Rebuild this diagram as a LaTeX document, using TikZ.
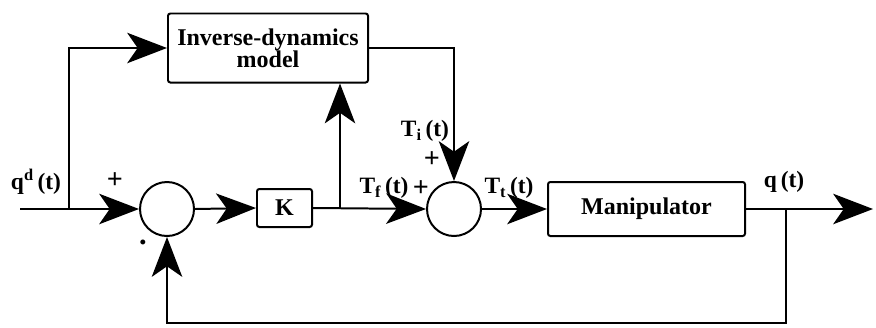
\documentclass[tikz,border=0pt]{standalone}
\usepackage{fontspec}
\setmainfont{Liberation Serif}
\usetikzlibrary{arrows.meta}
\begin{document}
\begin{tikzpicture}[x=0.03cm,y=-0.03cm,
  line width=1.7pt,
  blk/.style={draw,rectangle,rounded corners=2pt,inner sep=0pt,font=\fontsize{20.5}{19}\selectfont\bfseries},
  sumc/.style={draw,circle,minimum size=1.62cm,inner sep=0pt},
  lbl/.style={inner sep=0pt,font=\fontsize{20}{20}\selectfont\bfseries},
  arr/.style={-{Stealth[length=34pt,width=26pt,inset=9pt]}}]
\useasboundingbox (0,0) rectangle (876,327);
\node[blk,minimum width=6cm,minimum height=2.07cm,align=center] (inv) at (268,48) {Inverse-dynamics\\model};
\node[sumc] (s1) at (167,209) {};
\node[blk,minimum width=1.65cm,minimum height=1.14cm] (K) at (284.5,208) {K};
\node[sumc] (s2) at (454,209) {};
\node[blk,minimum width=5.91cm,minimum height=1.62cm] (M) at (646.5,209) {Manipulator};
\coordinate (in) at (20,209);
\coordinate (b1) at (69,209);
\coordinate (b2) at (340,209);
\coordinate (b3) at (786,209);
\coordinate (out) at (873,209);
\coordinate (fb) at (786,323);
\draw[arr] (in) -- (s1.west);
\draw[arr] (b1) |- (inv.west);
\draw[arr] (s1.east) -- (K.west);
\draw[arr] (K.east) -- (s2.west);
\draw[arr] (b2) -- (b2 |- inv.south);
\draw[arr] (inv.east) -| (s2.north);
\draw[arr] (s2.east) -- (M.west);
\draw[arr] (M.east) -- (out);
\draw[arr] (b3) -- (fb) -| (s1.south);
\node[lbl] (lq) at (36,182) {q$^{\mathbf{d}}$\,(t)};
\node[lbl,font=\fontsize{24}{24}\selectfont\bfseries] (p1) at (115,181) {+};
\node[lbl,font=\fontsize{26}{26}\selectfont\bfseries] (m1) at (143,242) {.};
\node[lbl] (lf) at (384,188) {T$_{\mathbf{f}}$\,(t)};
\node[lbl,font=\fontsize{24}{24}\selectfont\bfseries] (p2) at (421,189) {+};
\node[lbl] (li) at (425,131) {T$_{\mathbf{i}}$\,(t)};
\node[lbl,font=\fontsize{24}{24}\selectfont\bfseries] (p3) at (432,160) {+};
\node[lbl] (lt) at (509,188) {T$_{\mathbf{t}}$\,(t)};
\node[lbl] (lqo) at (784,182) {q\,(t)};
\end{tikzpicture}
\end{document}
